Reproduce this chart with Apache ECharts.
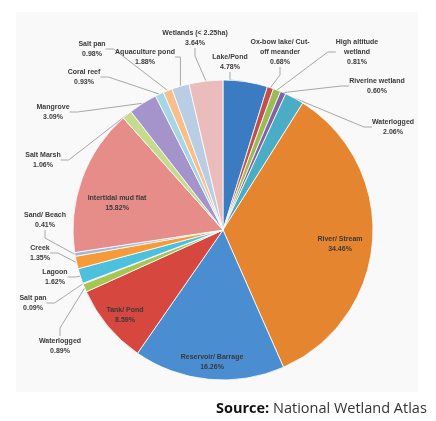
<!DOCTYPE html>
<html><head><meta charset="utf-8">
<script src="https://cdn.jsdelivr.net/npm/echarts@6/dist/echarts.min.js"></script>
<style>html,body{margin:0;padding:0;background:#fff}#c{width:436px;height:421px}</style>
</head><body><div id="c"></div>
<script>
// Data
const categories = [
  'Lake/Pond', 'Ox-bow lake/ Cut-\noff meander', 'High altitude\nwetland', 'Riverine wetland', 'Waterlogged',
  'River/ Stream', 'Reservoir/ Barrage', 'Tank/ Pond', 'Waterlogged', 'Salt pan',
  'Lagoon', 'Creek', 'Sand/ Beach', 'Intertidal mud flat', 'Salt Marsh',
  'Mangrove', 'Coral reef', 'Salt pan', 'Aquaculture pond', 'Wetlands (< 2.25ha)'
];
const percentages = [4.78, 0.68, 0.81, 0.60, 2.06, 34.46, 16.26, 8.59, 0.89, 0.09,
  1.62, 1.35, 0.41, 15.82, 1.06, 3.09, 0.93, 0.98, 1.88, 3.64];

// Styles / layout
const colors = ['#3a7bc2','#c0504d','#9bbb59','#8064a2','#4bacc6','#e5852f','#4a8dd0','#d5473f','#a5c650','#9278bf',
  '#4cc0dd','#f79a3a','#9fb9dc','#e68d8a','#c7db8e','#a594cc','#a4d6e6','#f9be8c','#b9cde5','#eabdbc'];
const insideIdx = [5, 6, 7, 13];
const labelPos = [
  [230,62],[280,52],[357,52],[377,86],[393,127],
  [340,244],[212,362],[125,315],[60,346],[33,303],
  [55,277],[40,253],[45,220],[117,203],[43,160],
  [53,112],[84,77],[92,49],[145,57],[195,38]
];

const data = categories.map((n, i) => {
  const inside = insideIdx.indexOf(i) >= 0;
  return {
    name: n, value: percentages[i],
    itemStyle: { color: colors[i] },
    label: { position: inside ? 'inside' : 'outside' },
    labelLine: { show: !inside }
  };
});

const chart = echarts.init(document.getElementById('c'), null, {renderer: 'canvas'});
chart.setOption({
  animation: false,
  backgroundColor: '#ffffff',
  graphic: [
    { type: 'rect', shape: { x: 16, y: 12, width: 402, height: 380 }, style: { fill: '#f9f9fa' }, z: -10 },
    { type: 'text', left: 216, top: 401, style: {
      text: '{b|Source:} National Wetland Atlas',
      rich: { b: { fontWeight: 'bold', fontSize: 14.5, fontFamily: 'Open Sans', fill: '#111' } },
      fontSize: 14.5, fontFamily: 'Open Sans', fill: '#333' } }
  ],
  series: [{
    type: 'pie',
    center: [223, 230],
    radius: [0, 150],
    startAngle: 90,
    clockwise: true,
    avoidLabelOverlap: false,
    minShowLabelAngle: 0,
    data: data,
    itemStyle: { borderColor: '#ffffff', borderWidth: 0.8 },
    label: {
      show: true,
      formatter: p => p.name + '\n' + p.value.toFixed(2) + '%',
      fontSize: 7, lineHeight: 10, fontWeight: 'bold',
      fontFamily: 'Liberation Sans', color: '#3a3a3a', align: 'center'
    },
    labelLine: { show: true, length: 8, length2: 8, lineStyle: { color: '#a8a8a8', width: 1 } },
    labelLayout: function (p) {
      const pos = labelPos[p.dataIndex];
      return { x: pos[0], y: pos[1], align: 'center', verticalAlign: 'middle' };
    }
  }]
});
</script></body></html>
